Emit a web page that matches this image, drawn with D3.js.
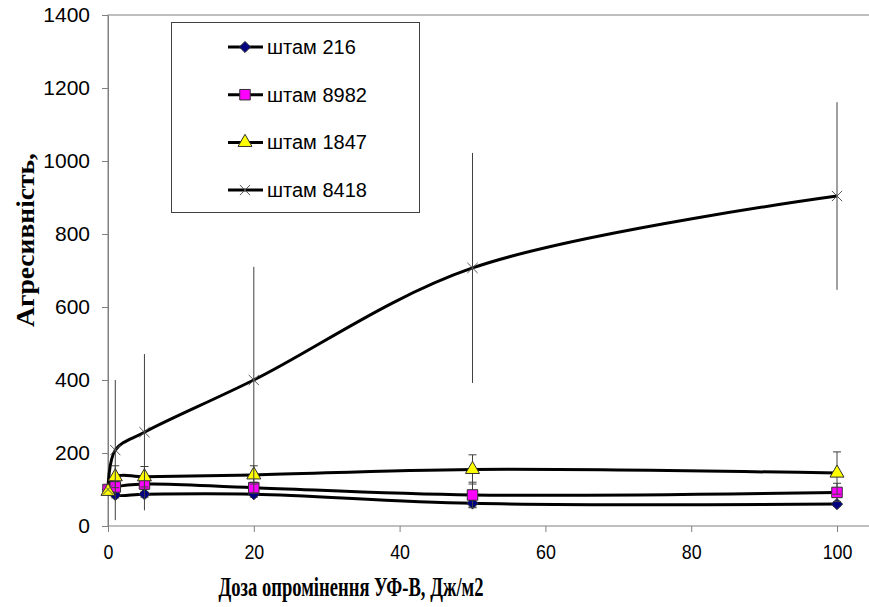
<!DOCTYPE html>
<html>
<head>
<meta charset="utf-8">
<script src="https://cdn.jsdelivr.net/npm/d3@7"></script>
<style>
body{margin:0;background:#fff;}
svg{display:block;}
</style>
</head>
<body>
<div id="chart"></div>
<script>
// dose, J/m2
var doses = [0, 1, 5, 20, 50, 100];

var strains = ["штам 216", "штам 8982", "штам 1847", "штам 8418"];

var vals216  = [100, 85, 87, 87, 62, 60];
var vals8982 = [100, 107, 115, 105, 85, 92];
var vals1847 = [95, 135, 135, 140, 155, 145];
var vals8418 = [100, 208, 257, 400, 707, 904];

var err216  = [0, 8, 8, 8, 10, 6];
var err8982 = [0, 15, 15, 15, 35, 25];
var err1847 = [0, 30, 28, 25, 40, 58];
var err8418 = [0, 192, 214, 310, 315, 257];

var yTicks = [0, 200, 400, 600, 800, 1000, 1200, 1400];
var xTicks = [0, 20, 40, 60, 80, 100];

var width = 869, height = 607;

var series = [
    {name: strains[0], vals: vals216,  err: err216,  sym: d3.symbolDiamond2, size: 80,  fill: "#000080", caps: true},
    {name: strains[1], vals: vals8982, err: err8982, sym: d3.symbolSquare,   size: 110, fill: "#ff00ff", caps: true},
    {name: strains[2], vals: vals1847, err: err1847, sym: d3.symbolTriangle, size: 85,  fill: "#ffff00", caps: true},
    {name: strains[3], vals: vals8418, err: err8418, sym: d3.symbolX,        size: 70,  fill: "none",    caps: false}
];

var x = d3.scaleLinear().domain([0, 100]).range([108, 837]);
var y = d3.scaleLinear().domain([0, 1400]).range([526, 15]);

var svg = d3.select("#chart").append("svg")
    .attr("width", width)
    .attr("height", height);

// plot area frame (right side runs off the picture)
svg.append("rect")
    .attr("x", 108).attr("y", 15)
    .attr("width", 800).attr("height", 511)
    .attr("fill", "none")
    .attr("stroke", "#808080");

// y axis
var yAxis = svg.append("g")
    .attr("transform", "translate(108,0)")
    .call(d3.axisLeft(y).tickValues(yTicks).tickFormat(d3.format("d"))
        .tickSize(6).tickSizeOuter(0).tickPadding(12));
yAxis.select(".domain").attr("stroke", "#808080");
yAxis.selectAll(".tick line").attr("stroke", "#808080");
yAxis.selectAll(".tick text")
    .attr("fill", "#000")
    .style("font", "21px 'Liberation Sans', Arial, sans-serif");

// x axis
var xAxis = svg.append("g")
    .attr("transform", "translate(0,526)")
    .call(d3.axisBottom(x).tickValues(xTicks).tickSize(6).tickPadding(12));
xAxis.select(".domain").remove();
xAxis.selectAll(".tick line").attr("stroke", "#808080");
xAxis.selectAll(".tick text")
    .attr("fill", "#000")
    .attr("transform", "scale(0.85,1)")
    .style("font", "21px 'Liberation Sans', Arial, sans-serif");

// labels
svg.append("text")
    .attr("x", 351).attr("y", 596)
    .attr("text-anchor", "middle")
    .attr("textLength", 265)
    .attr("lengthAdjust", "spacingAndGlyphs")
    .style("font", "bold 27px 'Liberation Serif', 'Times New Roman', serif")
    .text("Доза опромінення УФ-В, Дж/м2");

svg.append("text")
    .attr("transform", "translate(34,240) rotate(-90)")
    .attr("text-anchor", "middle")
    .attr("textLength", 174)
    .attr("lengthAdjust", "spacingAndGlyphs")
    .style("font", "bold 25px 'Liberation Serif', 'Times New Roman', serif")
    .text("Агресивність,");

// smoothed lines
var line = d3.line()
    .x(function(d, i) { return x(doses[i]); })
    .y(function(d) { return y(d); })
    .curve(d3.curveCatmullRom.alpha(0.5));

svg.selectAll(".line")
    .data(series)
    .enter().append("path")
    .attr("class", "line")
    .attr("d", function(d) { return line(d.vals); })
    .attr("fill", "none")
    .attr("stroke", "#000")
    .attr("stroke-width", 3);

// error bars and markers, one series after another
series.forEach(function(s) {
    var g = svg.append("g");
    doses.forEach(function(dose, i) {
        if (!s.err[i]) return;
        var cx = x(dose);
        g.append("line")
            .attr("x1", cx).attr("x2", cx)
            .attr("y1", y(s.vals[i] + s.err[i]))
            .attr("y2", y(s.vals[i] - s.err[i]))
            .attr("stroke", "#404040")
            .attr("stroke-width", 1);
        if (s.caps) {
            [s.vals[i] + s.err[i], s.vals[i] - s.err[i]].forEach(function(v) {
                g.append("line")
                    .attr("x1", cx - 4).attr("x2", cx + 4)
                    .attr("y1", y(v)).attr("y2", y(v))
                    .attr("stroke", "#404040");
            });
        }
    });
    g.selectAll(".mark")
        .data(s.vals)
        .enter().append("path")
        .attr("transform", function(d, i) { return "translate(" + x(doses[i]) + "," + y(d) + ")"; })
        .attr("d", d3.symbol().type(s.sym).size(s.size))
        .attr("fill", s.fill)
        .attr("stroke", s.fill == "none" ? "#555" : "#303030")
        .attr("stroke-width", 1);
});

// legend
var legend = svg.append("g");
legend.append("rect")
    .attr("x", 171.5).attr("y", 22.5)
    .attr("width", 248).attr("height", 190)
    .attr("fill", "#fff")
    .attr("stroke", "#404040");

var item = legend.selectAll(".item")
    .data(series)
    .enter().append("g")
    .attr("transform", function(d, i) { return "translate(0," + (47 + i * 47.7) + ")"; });

item.append("line")
    .attr("x1", 228).attr("x2", 263)
    .attr("stroke", "#000")
    .attr("stroke-width", 3);
item.append("path")
    .attr("transform", "translate(245,0)")
    .attr("d", function(d) { return d3.symbol().type(d.sym).size(d.size)(); })
    .attr("fill", function(d) { return d.fill; })
    .attr("stroke", function(d) { return d.fill == "none" ? "#555" : "#303030"; });
item.append("text")
    .attr("x", 267).attr("y", 7)
    .style("font", "20px 'Liberation Sans', Arial, sans-serif")
    .text(function(d) { return d.name; });
</script>
</body>
</html>
